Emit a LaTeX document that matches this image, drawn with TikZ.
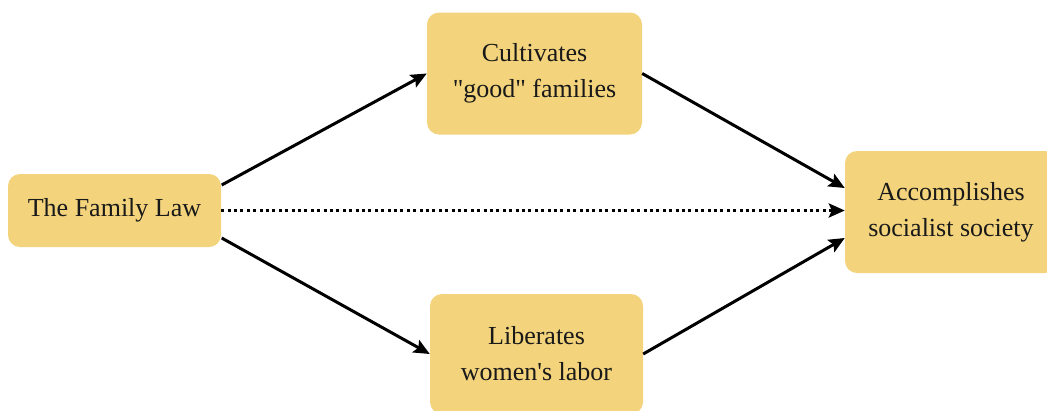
\documentclass[tikz,border=0pt]{standalone}
\usepackage{fontspec}
\setmainfont{Liberation Serif}
\usetikzlibrary{arrows.meta,calc}
\definecolor{boxfill}{HTML}{F3D47C}
\tikzset{
  stagebox/.style={fill=boxfill, rounded corners=12pt, align=center,
    inner sep=0pt, font=\fontsize{26}{36}\selectfont, text=black!90},
  flow/.style={line width=3pt, -{Stealth[length=16pt,width=14pt,inset=3pt]}},
  direct/.style={line width=3pt, dash pattern=on 3pt off 3.4pt,
    -{Stealth[length=16pt,width=14pt,inset=3pt]}}
}
\begin{document}
\begin{tikzpicture}[x=1pt,y=-1pt]
  \useasboundingbox (0,0) rectangle (1047,410);
  \clip (0,0) rectangle (1047,410);
  \fill[white] (0,0) rectangle (1047,410);

  % the four stages
  \node[stagebox, minimum width=213pt, minimum height=73pt] (fam) at (114.5,210.5) {The Family Law};
  \node[stagebox, minimum width=215pt, minimum height=122pt] (cult) at (534.5,73.5) {Cultivates\\\textquotedbl good\textquotedbl{} families};
  \node[stagebox, minimum width=213pt, minimum height=120pt] (lib) at (536.5,354) {Liberates\\women\textquotesingle s labor};
  \node[stagebox, minimum width=212pt, minimum height=122pt] (acc) at (951,212) {Accomplishes\\socialist society};

  % attachment points on the outer boxes
  \coordinate (famTop) at ($(fam.east)+(0.5,-25.5)$);
  \coordinate (famBot) at ($(fam.east)+(0.5,27.5)$);
  \coordinate (accTop) at ($(acc.west)+(0,-24)$);
  \coordinate (accBot) at ($(acc.west)+(0,26)$);
  \coordinate (accMid) at (fam.east -| acc.west);

  % connectors
  \draw[flow] (famTop) -- (cult.west);
  \draw[flow] (famBot) -- (lib.west);
  \draw[flow] (cult.east) -- (accTop);
  \draw[flow] (lib.east) -- (accBot);
  \draw[direct] (fam.east) -- (accMid);
\end{tikzpicture}
\end{document}
